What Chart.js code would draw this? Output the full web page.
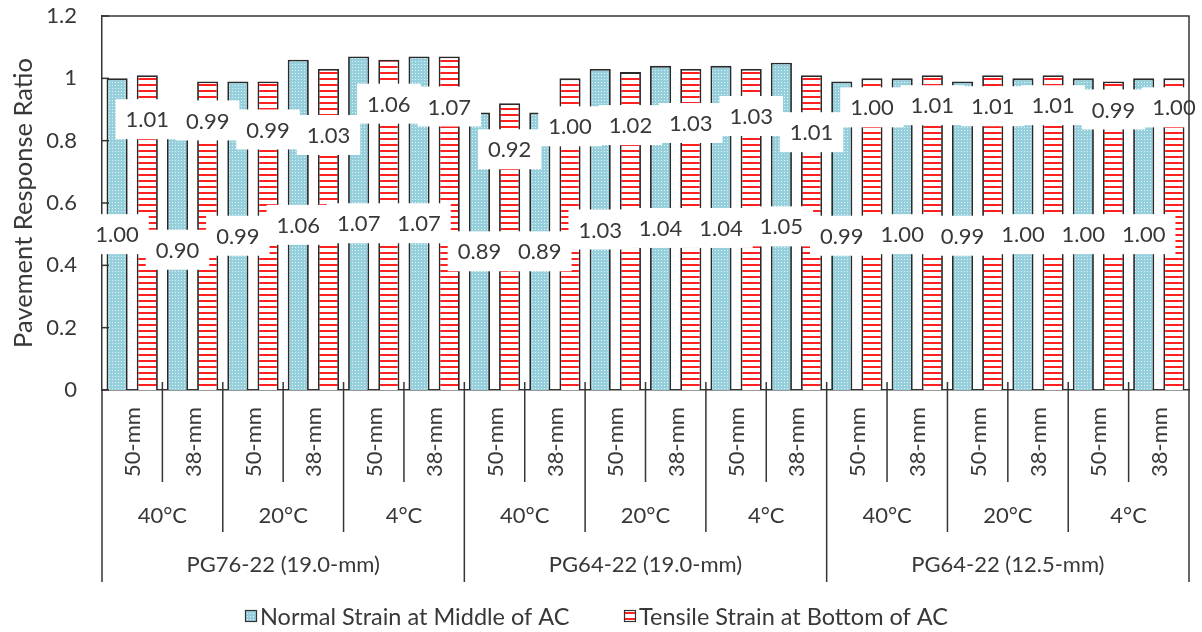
<!DOCTYPE html>
<html>
<head>
<meta charset="utf-8">
<script src="https://cdn.jsdelivr.net/npm/chart.js@4.4.1/dist/chart.umd.min.js"></script>
<style>
  html, body { margin: 0; padding: 0; background: #ffffff; }
  #wrap { width: 1202px; height: 632px; }
</style>
</head>
<body>
<div id="wrap"><canvas id="chart" width="1202" height="632"></canvas></div>
<script>
// Category hierarchy: binder > temperature > layer thickness
const thicknesses = ['50-mm', '38-mm'];
const temperatures = ['40°C', '20°C', '4°C'];
const binders = ['PG76-22 (19.0-mm)', 'PG64-22 (19.0-mm)', 'PG64-22 (12.5-mm)'];
const seriesNames = ['Normal Strain at Middle of AC', 'Tensile Strain at Bottom of AC'];

// Response ratios, one per thickness/temperature/binder combination
const normalStrain = [1.00, 0.90, 0.99, 1.06, 1.07, 1.07, 0.89, 0.89, 1.03, 1.04, 1.04, 1.05, 0.99, 1.00, 0.99, 1.00, 1.00, 1.00];
const tensileStrain = [1.01, 0.99, 0.99, 1.03, 1.06, 1.07, 0.92, 1.00, 1.02, 1.03, 1.03, 1.01, 1.00, 1.01, 1.01, 1.01, 0.99, 1.00];

const yTickLabels = ['0', '0.2', '0.4', '0.6', '0.8', '1', '1.2'];

// How far (px) each tensile label sits below the top of its bar
const tensileLabelDrop = [44, 39, 48, 66, 44, 50, 46, 48, 53, 54, 47, 57, 29, 30, 31, 30, 28, 29];

const TEXT = '#383838';
const LINE = '#353535';
const FONT = 'Lato';

// Build the flat category list from the hierarchy
const categories = [];
binders.forEach(b => temperatures.forEach(t => thicknesses.forEach(h => categories.push(b + ' | ' + t + ' | ' + h))));

function makePattern(w, h, paint) {
  const c = document.createElement('canvas');
  c.width = w; c.height = h;
  const g = c.getContext('2d');
  paint(g);
  return g.createPattern(c, 'repeat');
}

// Stippled light blue fill
const dotFill = makePattern(3, 3, g => {
  g.fillStyle = '#96cfdc'; g.fillRect(0, 0, 3, 3);
  g.fillStyle = '#e2f2f6'; g.fillRect(1, 1, 1, 1);
});
// White fill with red horizontal stripes
const stripeFill = makePattern(6, 6, g => {
  g.fillStyle = '#ffffff'; g.fillRect(0, 0, 6, 6);
  g.fillStyle = '#ff2020'; g.fillRect(0, 0, 6, 2);
});

const decorPlugin = {
  id: 'decor',
  afterDatasetsDraw(chart) {
    const ctx = chart.ctx;
    ctx.save();
    ctx.font = '22px ' + FONT;
    ctx.textAlign = 'center';
    ctx.textBaseline = 'middle';
    const drawLabel = (text, x, y) => {
      const w = ctx.measureText(text).width + 20;
      ctx.fillStyle = '#ffffff';
      ctx.fillRect(x - w / 2, y - 20, w, 40);
      ctx.fillStyle = TEXT;
      ctx.fillText(text, x, y + 1);
    };
    chart.getDatasetMeta(0).data.forEach((bar, j) => {
      drawLabel(normalStrain[j].toFixed(2), bar.x, (bar.y + bar.base) / 2);
    });
    chart.getDatasetMeta(1).data.forEach((bar, j) => {
      drawLabel(tensileStrain[j].toFixed(2), bar.x, bar.y + tensileLabelDrop[j]);
    });
    ctx.restore();
  },
  afterDraw(chart) {
    const ctx = chart.ctx;
    const area = chart.chartArea;
    const xs = chart.scales.x;
    const ys = chart.scales.y;
    const n = categories.length;
    const step = xs.getPixelForValue(1) - xs.getPixelForValue(0);
    const edge = k => xs.getPixelForValue(0) - step / 2 + k * step;

    ctx.save();
    ctx.strokeStyle = LINE;
    ctx.lineWidth = 1.5;

    // plot frame: top and right sides
    ctx.beginPath();
    ctx.moveTo(area.left, area.top);
    ctx.lineTo(area.right, area.top);
    ctx.lineTo(area.right, area.bottom);
    ctx.stroke();

    // inward ticks on the value axis
    ys.ticks.forEach(t => {
      const y = ys.getPixelForValue(t.value);
      ctx.beginPath();
      ctx.moveTo(area.left, y);
      ctx.lineTo(area.left + 7, y);
      ctx.stroke();
    });

    // category separators, longer at each higher grouping level
    const depth = [area.bottom + 92, area.bottom + 142, area.bottom + 192];
    for (let k = 0; k <= n; k++) {
      const level = k % 6 === 0 ? 2 : (k % 2 === 0 ? 1 : 0);
      const x = edge(k);
      ctx.beginPath();
      ctx.moveTo(x, (k === 0 || k === n) ? area.bottom : area.bottom - 8);
      ctx.lineTo(x, depth[level]);
      ctx.stroke();
    }

    ctx.fillStyle = TEXT;
    ctx.font = '22px ' + FONT;
    // thickness labels, rotated
    for (let j = 0; j < n; j++) {
      const cx = xs.getPixelForValue(j);
      ctx.save();
      ctx.translate(cx + 8, area.bottom + 52);
      ctx.rotate(-Math.PI / 2);
      ctx.textAlign = 'center';
      ctx.textBaseline = 'alphabetic';
      ctx.fillText(thicknesses[j % 2], 0, 0);
      ctx.restore();
    }
    ctx.textAlign = 'center';
    ctx.textBaseline = 'alphabetic';
    // temperature labels
    for (let g = 0; g < n / 2; g++) {
      const cx = (edge(2 * g) + edge(2 * g + 2)) / 2;
      ctx.fillText(temperatures[g % 3], cx, area.bottom + 133);
    }
    // binder labels
    for (let b = 0; b < binders.length; b++) {
      const cx = (edge(6 * b) + edge(6 * b + 6)) / 2;
      ctx.fillText(binders[b], cx, area.bottom + 182);
    }

    // legend
    ctx.font = '23.5px ' + FONT;
    ctx.textAlign = 'left';
    ctx.textBaseline = 'middle';
    const legendX = [245, 624];
    chart.data.datasets.forEach((ds, i) => {
      const x = legendX[i];
      ctx.fillStyle = ds.backgroundColor;
      ctx.fillRect(x, 610, 12, 12);
      ctx.lineWidth = 1.2;
      ctx.strokeStyle = '#333333';
      ctx.strokeRect(x + 0.5, 610.5, 11, 11);
      ctx.fillStyle = TEXT;
      ctx.fillText(ds.label, x + 15, 617);
    });
    ctx.restore();
  }
};

function build() {
  new Chart(document.getElementById('chart'), {
    type: 'bar',
    data: {
      labels: categories,
      datasets: [
        { label: seriesNames[0], data: normalStrain, backgroundColor: dotFill, borderColor: '#2a2a2a', borderWidth: 1.8 },
        { label: seriesNames[1], data: tensileStrain, backgroundColor: stripeFill, borderColor: '#2a2a2a', borderWidth: 1.8 }
      ]
    },
    options: {
      responsive: false,
      animation: false,
      categoryPercentage: 1.0,
      barPercentage: 0.7,
      layout: { padding: { top: 16, right: 13, bottom: 0, left: 0 } },
      plugins: { legend: { display: false }, tooltip: { enabled: false } },
      scales: {
        x: {
          ticks: { display: false },
          grid: { display: false, drawTicks: false },
          border: { display: true, color: LINE, width: 1.5 },
          afterFit: s => { s.height = 242; }
        },
        y: {
          min: 0,
          max: 1.2,
          ticks: {
            stepSize: 0.2,
            padding: 0,
            color: TEXT,
            font: { family: FONT, size: 22 },
            callback: (v, i) => yTickLabels[i]
          },
          // tick marks are not drawn; their length only spaces the labels off the axis
          grid: { display: false, drawTicks: true, tickLength: 25 },
          border: { display: true, color: LINE, width: 1.5 },
          title: {
            display: true,
            text: 'Pavement Response Ratio',
            color: TEXT,
            font: { family: FONT, size: 25.5 },
            padding: { top: 8, bottom: 0 }
          },
          afterFit: s => { s.width = 102; }
        }
      }
    },
    plugins: [decorPlugin]
  });
}

if (document.fonts && document.fonts.load) {
  Promise.all([document.fonts.load('22px Lato'), document.fonts.load('23.5px Lato')]).then(build, build);
} else {
  build();
}
</script>
</body>
</html>
